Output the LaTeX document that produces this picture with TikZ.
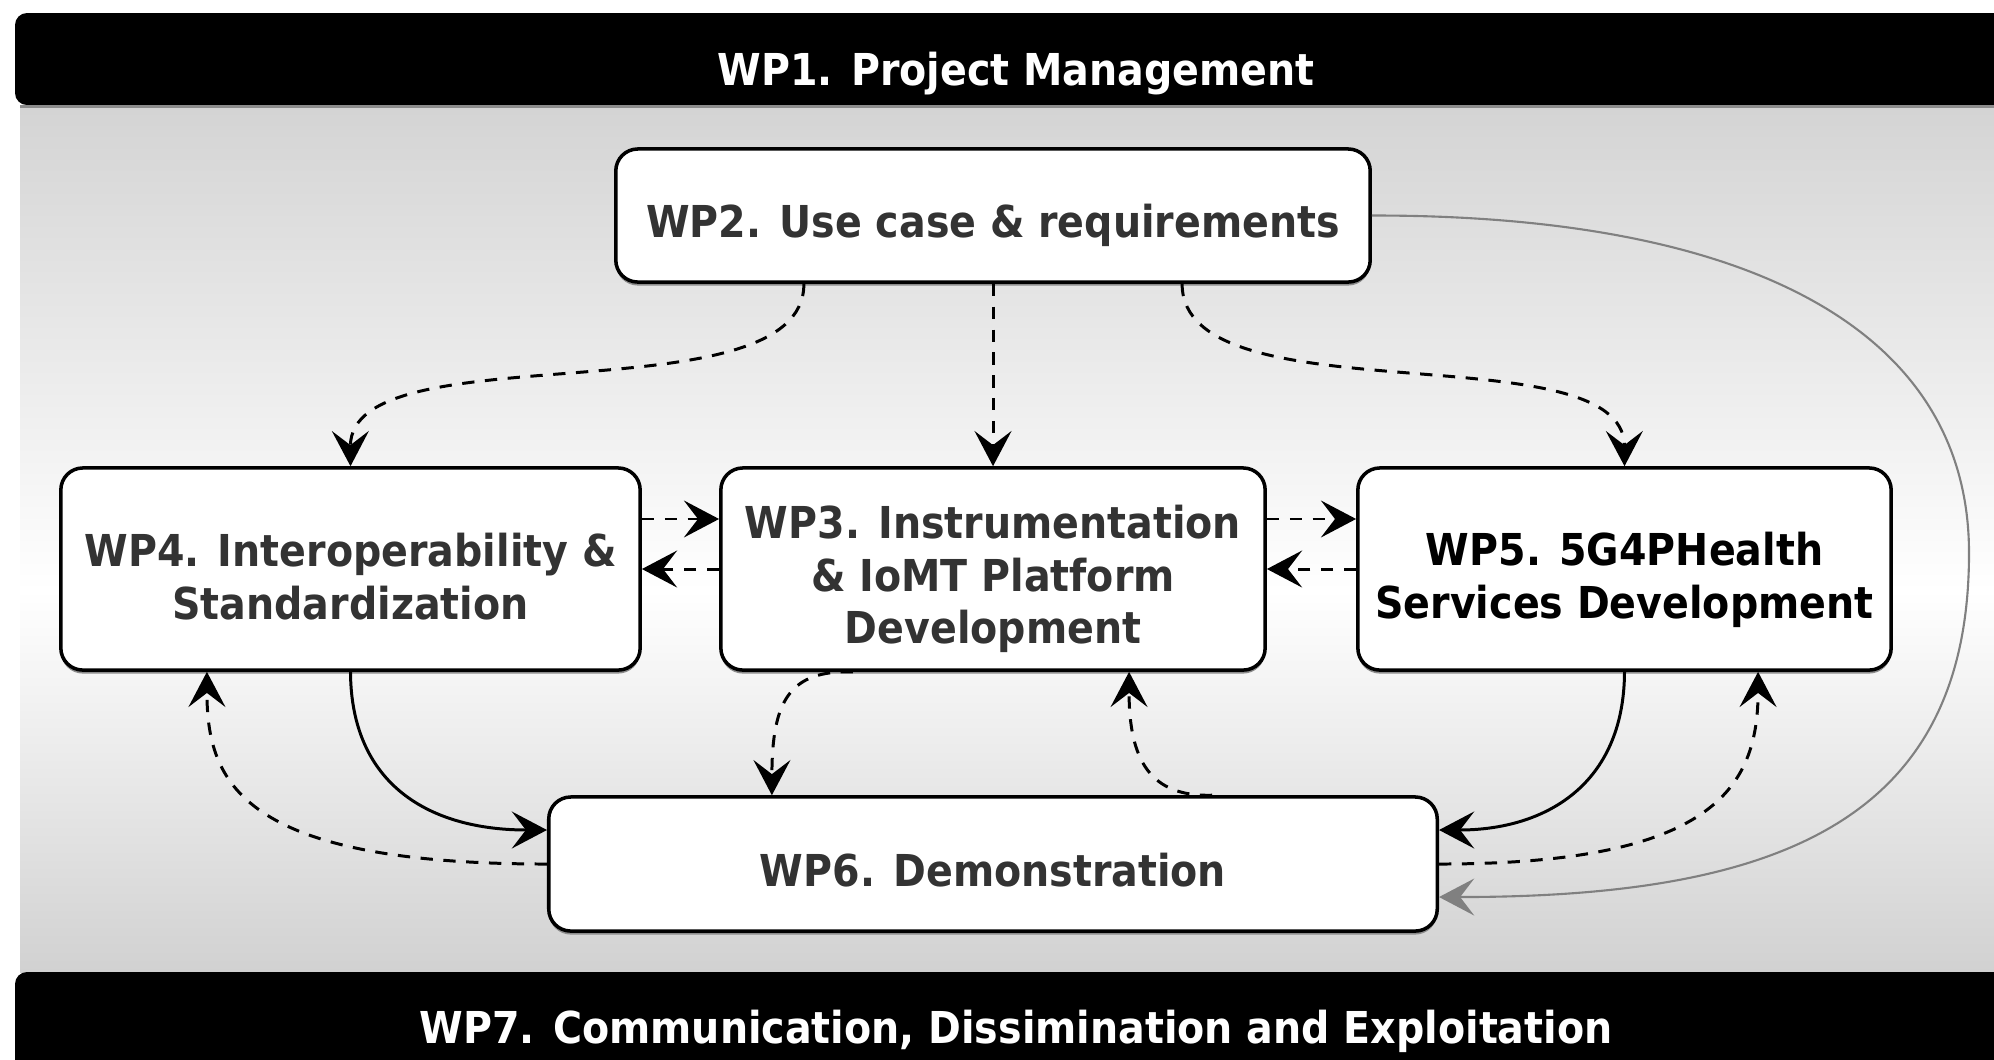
\documentclass[tikz,border=0pt]{standalone}
\usepackage{fontspec}
\newfontfamily\wpfont{DejaVu Sans}[FakeStretch=0.9]
\usetikzlibrary{arrows.meta,shadows}
\newcommand\topgap[1]{\rule{0pt}{#1}}
\begin{document}
\begin{tikzpicture}[x=0.01cm,y=-0.01cm,
  wp/.style={draw=black, line width=1pt, fill=white, rounded corners=0.22cm,
    align=center, text=black!80, inner sep=0pt,
    font=\wpfont\bfseries\fontsize{12.5}{15}\selectfont,
    drop shadow={shadow xshift=0pt, shadow yshift=-1pt, fill=black!45, opacity=1}},
  bannertext/.style={text=white, anchor=base, inner sep=0pt,
    font=\wpfont\bfseries\fontsize{12.5}{14.8}\selectfont},
  tip/.style={-{Stealth[length=10pt,width=10.5pt,inset=4pt]}},
  dep/.style={tip, line width=0.85pt, dash pattern=on 3.5pt off 3pt},
  flow/.style={tip, line width=0.85pt},
  grayflow/.style={-{Stealth[length=10pt,width=10.5pt,inset=4pt,gray]}, draw=gray, line width=0.6pt}
]
\useasboundingbox (0,0) rectangle (1994,1059);
\fill[white] (0,0) rectangle (1994,1059);
% background gradient
\fill[top color=black!17, bottom color=white] (20,105) rectangle (1994,591);
\fill[top color=white, bottom color=black!18] (20,590) rectangle (1994,972);
% banners
\fill[black, rounded corners=0.12cm] (15,13) rectangle (2040,105);
\fill[black!45] (20,105) rectangle (1994,108);
\fill[black, rounded corners=0.12cm] (15,972) rectangle (2040,1090);
\node[bannertext] (wp1) at (1016,85) {WP1. Project Management};
\node[bannertext] (wp7) at (1016,1043) {WP7. Communication, Dissimination and Exploitation};
% boxes
\node[wp, minimum width=7.54cm, minimum height=1.33cm] (wp2) at (993,215.5) {\topgap{15pt}WP2. Use case \& requirements};
\node[wp, minimum width=5.79cm, minimum height=2.02cm] (wp4) at (350.5,569) {\topgap{13.8pt}WP4. Interoperability \&\\Standardization};
\node[wp, minimum width=5.44cm, minimum height=2.02cm] (wp3) at (993,569) {\topgap{15.2pt}WP3. Instrumentation\\\& IoMT Platform\\Development};
\node[wp, minimum width=5.33cm, minimum height=2.02cm, text=black] (wp5) at (1624.5,569) {\topgap{15.5pt}WP5. 5G4PHealth\\Services Development};
\node[wp, minimum width=8.88cm, minimum height=1.34cm] (wp6) at (993,864) {\topgap{13.1pt}WP6. Demonstration};
% connectors from WP2
\draw[dep] ([xshift=-1.89cm]wp2.south) .. controls (804,420) and (350,330) .. (wp4.north);
\draw[dep] (wp2.south) -- (wp3.north);
\draw[dep] ([xshift=1.89cm]wp2.south) .. controls (1182,420) and (1624,330) .. (wp5.north);
% horizontal links
\draw[dep] ([yshift=0.5cm]wp4.east) -- ([yshift=0.5cm]wp3.west);
\draw[dep] (wp3.west) -- (wp4.east);
\draw[dep] ([yshift=0.5cm]wp3.east) -- ([yshift=0.5cm]wp5.west);
\draw[dep] (wp5.west) -- (wp3.east);
% links with WP6
\draw[flow] (wp4.south) .. controls (351,785) and (430,830) .. ([yshift=0.34cm]wp6.west);
\draw[dep] (wp6.west) .. controls (240,864) and (207,782) .. ([xshift=-1.435cm]wp4.south);
\draw[dep] ([xshift=-1.4cm]wp3.south) .. controls (790,670) and (772,700) .. ([xshift=-2.21cm]wp6.north);
\draw[dep] ([xshift=2.19cm]wp6.north) .. controls (1150,797) and (1129,760) .. ([xshift=1.36cm]wp3.south);
\draw[flow] (wp5.south) .. controls (1624,785) and (1545,830) .. ([yshift=0.34cm]wp6.east);
\draw[dep] (wp6.east) .. controls (1710,864) and (1758,790) .. ([xshift=1.335cm]wp5.south);
% grey feedback arc
\coordinate (far) at (1969,553);
\draw[grayflow] (wp2.east) .. controls (1750,215) and (1969,330) .. (far)
  .. controls (1969,820) and (1780,897) .. ([yshift=-0.33cm]wp6.east);
\end{tikzpicture}
\end{document}
